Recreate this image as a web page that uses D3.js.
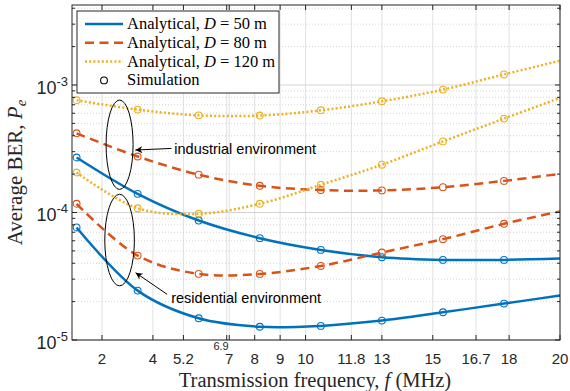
<!DOCTYPE html>
<html>
<head>
<meta charset="utf-8">
<script src="https://cdn.jsdelivr.net/npm/d3@7"></script>
<style>
    body { margin: 0; background: #fff; }
    svg { display: block; }
</style>
</head>
<body>
<div id="chart"></div>
<script>

// transmission frequency (MHz) of the analytical curves
let freq = [1, 3.4, 5.8, 8.2, 10.6, 13, 15.4, 17.8, 20];
// simulation runs only at the first 8 frequencies
let freqSim = [1, 3.4, 5.8, 8.2, 10.6, 13, 15.4, 17.8];

// industrial environment, analytical BER
let indD50  = [2.70e-4, 1.40e-4, 8.65e-5, 6.29e-5, 5.09e-5, 4.46e-5, 4.25e-5, 4.25e-5, 4.35e-5];
let indD80  = [4.18e-4, 2.75e-4, 1.98e-4, 1.62e-4, 1.50e-4, 1.49e-4, 1.58e-4, 1.77e-4, 2.01e-4];
let indD120 = [7.59e-4, 6.41e-4, 5.78e-4, 5.76e-4, 6.33e-4, 7.45e-4, 9.20e-4, 1.21e-3, 1.55e-3];

// residential environment, analytical BER
let resD50  = [7.63e-5, 2.44e-5, 1.48e-5, 1.27e-5, 1.29e-5, 1.42e-5, 1.65e-5, 1.93e-5, 2.23e-5];
let resD80  = [1.17e-4, 4.59e-5, 3.30e-5, 3.30e-5, 3.81e-5, 4.85e-5, 6.18e-5, 8.15e-5, 1.02e-4];
let resD120 = [2.06e-4, 1.08e-4, 9.77e-5, 1.17e-4, 1.65e-4, 2.37e-4, 3.61e-4, 5.45e-4, 7.92e-4];

// simulation points
let simIndD50  = [2.70e-4, 1.40e-4, 8.65e-5, 6.29e-5, 5.09e-5, 4.46e-5, 4.25e-5, 4.25e-5];
let simIndD80  = [4.18e-4, 2.75e-4, 1.98e-4, 1.62e-4, 1.50e-4, 1.49e-4, 1.58e-4, 1.77e-4];
let simIndD120 = [7.59e-4, 6.41e-4, 5.78e-4, 5.76e-4, 6.33e-4, 7.45e-4, 9.20e-4, 1.21e-3];
let simResD50  = [7.63e-5, 2.44e-5, 1.48e-5, 1.27e-5, 1.29e-5, 1.42e-5, 1.65e-5, 1.93e-5];
let simResD80  = [1.17e-4, 4.59e-5, 3.30e-5, 3.30e-5, 3.81e-5, 4.85e-5, 6.18e-5, 8.15e-5];
let simResD120 = [2.06e-4, 1.08e-4, 9.77e-5, 1.17e-4, 1.65e-4, 2.37e-4, 3.61e-4, 5.45e-4];

// axis ticks
let xTicks = [2, 4, 5.2, 7, 8, 9, 10, 11.8, 13, 15, 16.7, 18, 20];
let xTickRaised = 6.9;
let yDecades = [1e-5, 1e-4, 1e-3];

let distances = ["50", "80", "120"];

// style per distance
let colors = ["#0072BD", "#D95319", "#EDB120"];
let dashes = [null, "9,5.5", "2,2.2"];

let margin = {top: 5, right: 10, bottom: 51, left: 72};
let width = 570 - margin.left - margin.right,
    height = 391 - margin.top - margin.bottom;

let svg = d3.select("#chart").append("svg")
    .attr("width", 570)
    .attr("height", 391)
    .style("font-family", "'Liberation Sans', Arial, sans-serif");

let g = svg.append("g")
    .attr("transform", "translate(" + margin.left + "," + margin.top + ")");

let x = d3.scaleLinear().domain([0.82, 20]).range([0, width]);
let y = d3.scaleLog().domain([1e-5, 4.24e-3]).range([height, 0]);

// minor positions 2..9 for each decade
let yMinor = [];
yDecades.forEach(function (d) {
    for (let k = 2; k <= 9; k++) {
        if (d * k <= y.domain()[1]) yMinor.push(d * k);
    }
});

// GRID
g.append("g").selectAll("line")
    .data(xTicks.concat([xTickRaised]))
    .enter().append("line")
    .attr("x1", d => x(d)).attr("x2", d => x(d))
    .attr("y1", 0).attr("y2", height)
    .style("stroke", "#e1e1e1").style("stroke-width", 1);

g.append("g").selectAll("line")
    .data(yMinor)
    .enter().append("line")
    .attr("x1", 0).attr("x2", width)
    .attr("y1", d => y(d)).attr("y2", d => y(d))
    .style("stroke", "#d6d6d6").style("stroke-width", 1)
    .style("stroke-dasharray", "1,2");

g.append("g").selectAll("line")
    .data(yDecades)
    .enter().append("line")
    .attr("x1", 0).attr("x2", width)
    .attr("y1", d => y(d)).attr("y2", d => y(d))
    .style("stroke", "#d4d4d4").style("stroke-width", 1);

// CURVES
let line = d3.line()
    .x((d, i) => x(freq[i]))
    .y(d => y(d))
    .curve(d3.curveCatmullRom.alpha(0.5));

let analytical = [indD50, indD80, indD120, resD50, resD80, resD120];
let simulation = [simIndD50, simIndD80, simIndD120, simResD50, simResD80, simResD120];

analytical.forEach(function (series, s) {
    g.append("path")
        .datum(series)
        .attr("d", line)
        .style("fill", "none")
        .style("stroke", colors[s % 3])
        .style("stroke-width", 2.5)
        .style("stroke-dasharray", dashes[s % 3]);
});

simulation.forEach(function (series, s) {
    g.append("g").selectAll("circle")
        .data(series)
        .enter().append("circle")
        .attr("cx", (d, i) => x(freqSim[i]))
        .attr("cy", d => y(d))
        .attr("r", 3.4)
        .style("fill", "none")
        .style("stroke", colors[s % 3])
        .style("stroke-width", 1.1);
});

// ANNOTATIONS (ellipses, arrows, labels)
let notes = [
    {text: "industrial environment", cf: 2.69, cp: 3.40e-4, rx: 13.5, ry: 44.7,
     tip: [3.31, 3.09e-4], tail: [4.73, 3.18e-4], label: [4.84, 3.13e-4]},
    {text: "residential environment", cf: 2.69, cp: 6.08e-5, rx: 14.8, ry: 45.8,
     tip: [3.32, 3.37e-5], tail: [4.56, 2.28e-5], label: [4.72, 2.12e-5]}
];

svg.append("defs").append("marker")
    .attr("id", "arrowhead")
    .attr("viewBox", "0 0 10 10")
    .attr("refX", 10).attr("refY", 5)
    .attr("markerWidth", 9).attr("markerHeight", 7)
    .attr("markerUnits", "userSpaceOnUse")
    .attr("orient", "auto")
    .append("path")
    .attr("d", "M0,0 L10,5 L0,10 L3,5 Z")
    .style("fill", "#000");

notes.forEach(function (n) {
    g.append("ellipse")
        .attr("cx", x(n.cf)).attr("cy", y(n.cp))
        .attr("rx", n.rx).attr("ry", n.ry)
        .style("fill", "none").style("stroke", "#000").style("stroke-width", 1);

    g.append("line")
        .attr("x1", x(n.tail[0])).attr("y1", y(n.tail[1]))
        .attr("x2", x(n.tip[0])).attr("y2", y(n.tip[1]))
        .style("stroke", "#000").style("stroke-width", 1)
        .attr("marker-end", "url(#arrowhead)");

    g.append("text")
        .attr("x", x(n.label[0])).attr("y", y(n.label[1]))
        .attr("dy", "0.35em")
        .style("font-size", "14.5px")
        .style("fill", "#000")
        .text(n.text);
});

// AXES BOX + TICKS
let axisColor = "#262626";

g.append("rect")
    .attr("width", width).attr("height", height)
    .style("fill", "none").style("stroke", axisColor).style("stroke-width", 1);

[0, height].forEach(function (yy) {
    let dir = yy === 0 ? 1 : -1;
    g.append("g").selectAll("line")
        .data(xTicks.concat([xTickRaised]))
        .enter().append("line")
        .attr("x1", d => x(d)).attr("x2", d => x(d))
        .attr("y1", yy).attr("y2", yy + dir * 5)
        .style("stroke", axisColor);
});

[0, width].forEach(function (xx) {
    let dir = xx === 0 ? 1 : -1;
    g.append("g").selectAll("line")
        .data(yDecades)
        .enter().append("line")
        .attr("x1", xx).attr("x2", xx + dir * 5)
        .attr("y1", d => y(d)).attr("y2", d => y(d))
        .style("stroke", axisColor);
    g.append("g").selectAll("line")
        .data(yMinor)
        .enter().append("line")
        .attr("x1", xx).attr("x2", xx + dir * 3)
        .attr("y1", d => y(d)).attr("y2", d => y(d))
        .style("stroke", axisColor);
});

// x tick labels
g.append("g").selectAll("text")
    .data(xTicks)
    .enter().append("text")
    .attr("x", d => x(d))
    .attr("y", height + 24)
    .attr("text-anchor", "middle")
    .style("font-size", "15px")
    .style("fill", axisColor)
    .text(d => d);

g.append("text")
    .attr("x", x(xTickRaised) + 2)
    .attr("y", height + 10)
    .attr("text-anchor", "end")
    .style("font-size", "11px")
    .style("fill", axisColor)
    .text(xTickRaised);

// y tick labels 10^k
let yLab = g.append("g").selectAll("text")
    .data(yDecades)
    .enter().append("text")
    .attr("x", -4)
    .attr("y", d => y(d) + 9)
    .attr("text-anchor", "end")
    .style("font-size", "18px")
    .style("fill", axisColor);
yLab.append("tspan").text("10");
yLab.append("tspan")
    .attr("dy", -8)
    .style("font-size", "13px")
    .text(d => "-" + Math.round(-Math.log10(d)));

// axis titles
let serif = "'Liberation Serif', 'Times New Roman', serif";

let xTitle = svg.append("text")
    .attr("x", margin.left + width / 2 - 1)
    .attr("y", 387)
    .attr("text-anchor", "middle")
    .style("font-family", serif)
    .style("font-size", "20.5px")
    .style("fill", axisColor);
xTitle.append("tspan").text("Transmission frequency, ");
xTitle.append("tspan").style("font-style", "italic").text("f");
xTitle.append("tspan").text(" (MHz)");

let yTitle = svg.append("text")
    .attr("transform", "translate(22," + (margin.top + height / 2) + ") rotate(-90)")
    .attr("text-anchor", "middle")
    .style("font-family", serif)
    .style("font-size", "21px")
    .style("fill", axisColor);
yTitle.append("tspan").text("Average BER, ");
yTitle.append("tspan").style("font-style", "italic").text("P");
yTitle.append("tspan").style("font-style", "italic").style("font-size", "15px")
    .attr("dy", 4).text("e");

// LEGEND
let legend = svg.append("g").attr("transform", "translate(77,11)");

legend.append("rect")
    .attr("width", 202).attr("height", 82)
    .style("fill", "#fff").style("stroke", axisColor).style("stroke-width", 1);

distances.forEach(function (dist, i) {
    let ly = 13 + i * 18.8;
    legend.append("line")
        .attr("x1", 8).attr("x2", 46)
        .attr("y1", ly).attr("y2", ly)
        .style("stroke", colors[i])
        .style("stroke-width", 2.5)
        .style("stroke-dasharray", dashes[i]);
    let t = legend.append("text")
        .attr("x", 50).attr("y", ly + 5)
        .style("font-family", serif)
        .style("font-size", "16.5px")
        .style("fill", "#000");
    t.append("tspan").text("Analytical, ");
    t.append("tspan").style("font-style", "italic").text("D");
    t.append("tspan").text(" = " + dist + " m");
});

legend.append("circle")
    .attr("cx", 27).attr("cy", 13 + 3 * 18.8)
    .attr("r", 3.4)
    .style("fill", "none").style("stroke", "#000").style("stroke-width", 1.1);

legend.append("text")
    .attr("x", 50).attr("y", 13 + 3 * 18.8 + 5)
    .style("font-family", serif)
    .style("font-size", "16.5px")
    .style("fill", "#000")
    .text("Simulation");

</script>
</body>
</html>
